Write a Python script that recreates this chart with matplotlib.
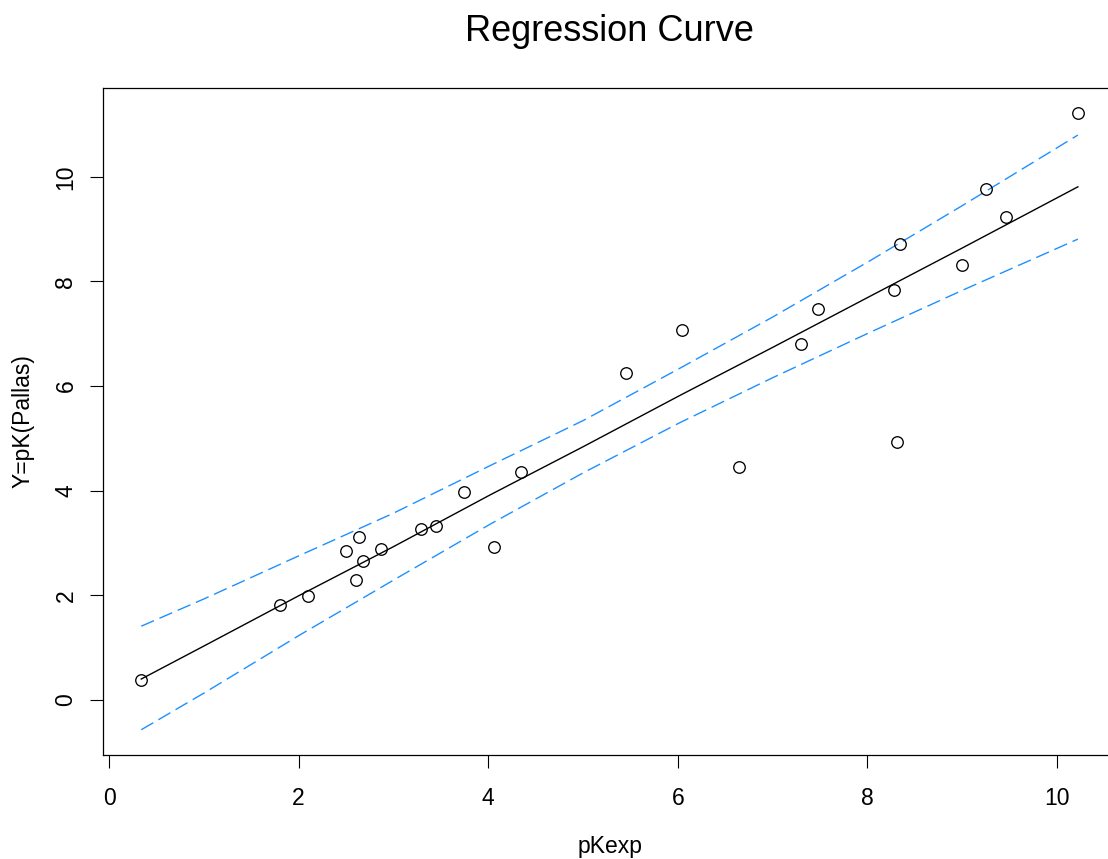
import matplotlib
matplotlib.use("Agg")
import matplotlib.pyplot as plt

# observed points (pKexp vs pK from Pallas)
pk_exp = [0.34, 1.80, 2.10, 2.50, 2.64, 2.61, 2.68, 2.87, 3.29, 3.45, 3.74, 4.06, 4.35,
          5.45, 6.04, 6.65, 7.30, 7.48, 8.28, 8.31, 8.34, 9.00, 9.25, 9.46, 10.22]
pk_pallas = [0.38, 1.82, 1.99, 2.85, 3.12, 2.29, 2.66, 2.89, 3.27, 3.33, 3.98, 2.93, 4.36,
             6.25, 7.07, 4.46, 6.81, 7.48, 7.84, 4.93, 8.72, 8.32, 9.77, 9.24, 11.22]

# fitted curve and confidence band
curve_x = [0.34, 1.0, 2.02, 3.0, 4.02, 5.0, 6.02, 7.0, 8.03, 9.0, 10.22]
fit_y = [0.40, 1.03, 2.01, 2.93, 3.92, 4.84, 5.82, 6.74, 7.72, 8.64, 9.81]
upper_y = [1.41, 1.93, 2.77, 3.57, 4.48, 5.34, 6.34, 7.32, 8.40, 9.45, 10.80]
lower_y = [-0.57, 0.13, 1.25, 2.29, 3.36, 4.34, 5.30, 6.16, 7.03, 7.83, 8.81]

plt.rcParams['font.family'] = ['Liberation Sans', 'DejaVu Sans']

fig = plt.figure(figsize=(11.08, 8.59), dpi=100)
ax = fig.add_axes([0.093, 0.1211, 0.9149, 0.7765])

ax.plot(curve_x, fit_y, color='black', lw=1.0)
ax.plot(curve_x, upper_y, color='#1E90FF', lw=1.0, dashes=(10, 4.3))
ax.plot(curve_x, lower_y, color='#1E90FF', lw=1.0, dashes=(10, 4.3))
ax.plot(pk_exp, pk_pallas, 'o', mfc='none', mec='black', ms=8.3, mew=0.95)

ax.set_xlim(-0.063, 10.63)
ax.set_ylim(-1.052, 11.70)
ax.set_xticks([0, 2, 4, 6, 8, 10])
ax.set_yticks([0, 2, 4, 6, 8, 10])
ax.tick_params(axis='both', direction='out', length=9.4, width=0.8, labelsize=16.5)
ax.tick_params(axis='x', pad=14)
ax.tick_params(axis='y', pad=9)
for lab in ax.get_yticklabels():
    lab.set_rotation(90)
    lab.set_va('center')
for s in ax.spines.values():
    s.set_linewidth(0.9)

ax.set_xlabel('pKexp', fontsize=16.5, labelpad=18)
ax.set_ylabel('Y=pK(Pallas)', fontsize=16.5, labelpad=14)
ax.set_title('Regression Curve', fontsize=26, pad=34)

fig.savefig('out.png', dpi=100)
